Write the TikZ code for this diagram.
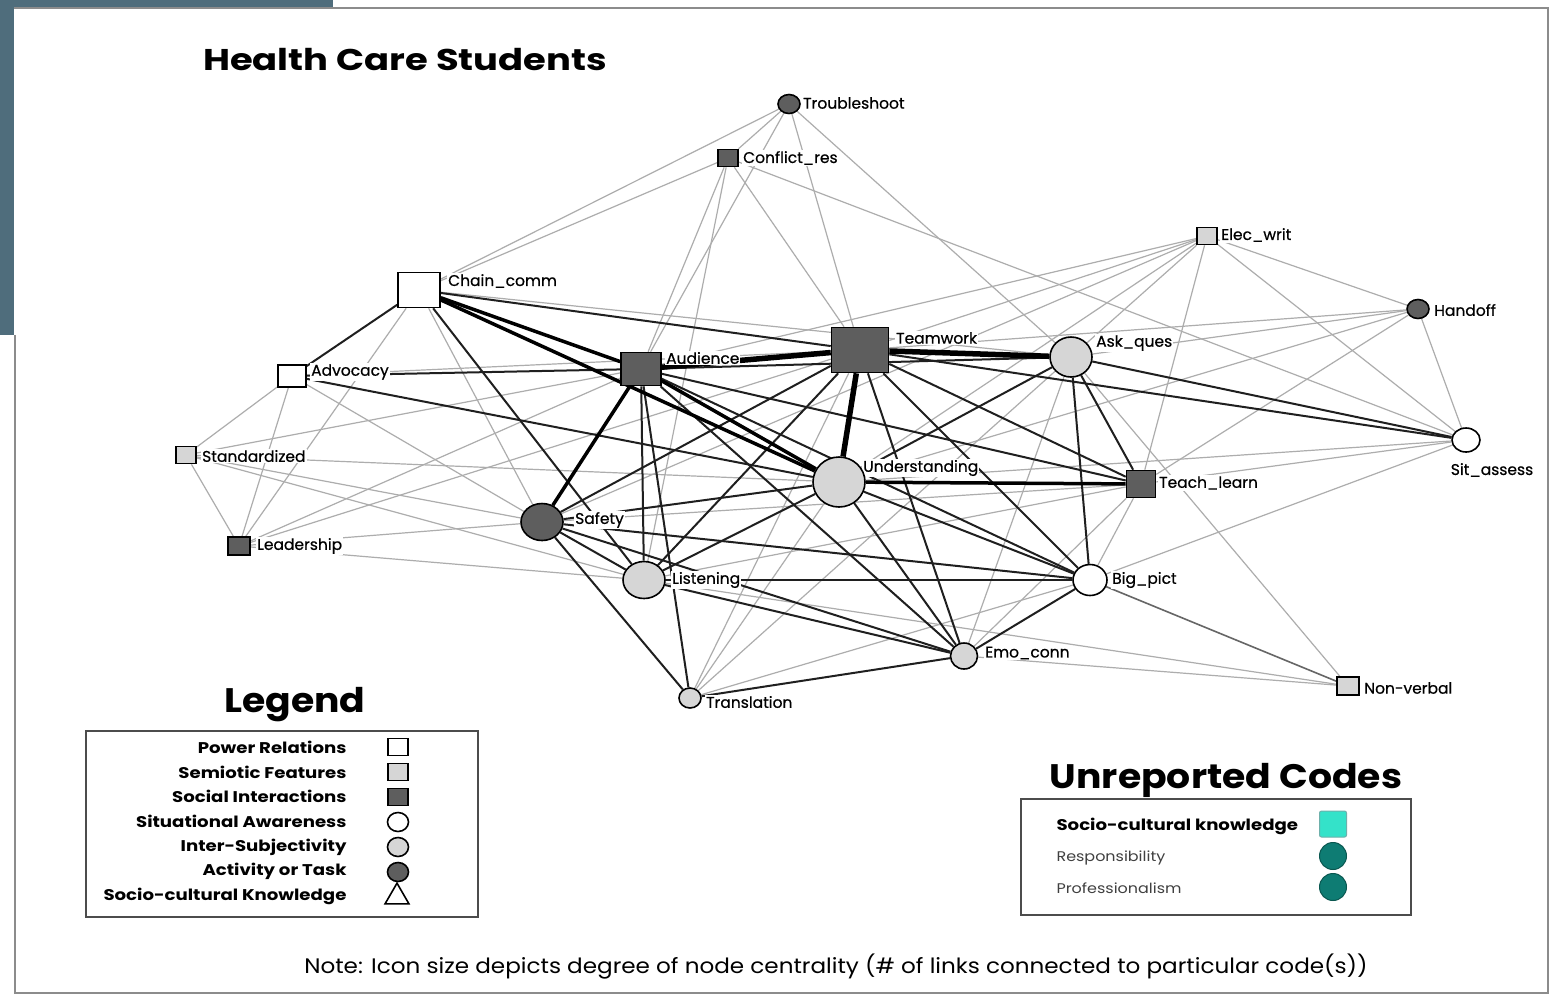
\documentclass[tikz,border=0pt]{standalone}
\usepackage{fontspec}
\setmainfont{Poppins}
\newfontfamily\labf{Poppins}[FakeBold=0.6]
\newfontfamily\wideA{Poppins}[FakeStretch=1.23]
\newfontfamily\wideB{Poppins}[FakeStretch=1.17]
\newfontfamily\wideC{Poppins}[FakeStretch=1.11]
\newfontfamily\wideD{Poppins}[FakeStretch=1.14]
\newfontfamily\wideE{Poppins}[FakeStretch=1.1]
\usetikzlibrary{shapes.geometric,backgrounds}
\definecolor{slate}{HTML}{4F6D7C}
\definecolor{dk}{HTML}{5E5E5E}
\definecolor{lg}{HTML}{D6D6D6}
\definecolor{edl}{HTML}{ADADAD}
\definecolor{tealc}{HTML}{0E7C73}
\definecolor{cyanc}{HTML}{34E2C9}
\begin{document}
\begin{tikzpicture}[x=1pt,y=-1pt,
  sq/.style={rectangle,draw=black,line width=1.6pt,inner sep=0pt},
  ci/.style={ellipse,draw=black,line width=1.6pt,inner sep=0pt},
  lab/.style={fill=white,inner sep=1pt,anchor=west,font=\labf\fontsize{15.5}{15.5}\selectfont},
  lt/.style={draw=edl,line width=1.2pt},
  md/.style={draw=black!88,line width=2pt},
  mg/.style={draw=black!60,line width=1.6pt},
  tk/.style={draw=black,line width=3.5pt},
  vtk/.style={draw=black,line width=5.5pt},
  legt/.style={anchor=east,font=\wideB\fontsize{15.5}{15.5}\selectfont\bfseries},
  head/.style={font=\wideC\fontsize{34}{34}\selectfont\bfseries},
]
\useasboundingbox (0,0) rectangle (1557,997);
% labels
\node[lab] (TSl) at (802,103) {Troubleshoot};
\node[lab] (CRl) at (742,158) {Conflict\_res};
\node[lab] (EWl) at (1220,235) {Elec\_writ};
\node[lab] (HOl) at (1433,310) {Handoff};
\node[lab] (CCl) at (447,281) {Chain\_comm};
\node[lab] (ADl) at (310,372) {Advocacy};
\node[lab] (AUl) at (665,358) {Audience};
\node[lab] (TWl) at (895,338) {Teamwork};
\node[lab] (AQl) at (1095,343) {Ask\_ques};
\node[lab] (STl) at (201,456) {Standardized};
\node[lab,anchor=center] (SAl) at (1492,470) {Sit\_assess};
\node[lab] (UNl) at (862,468) {Understanding};
\node[lab] (TLl) at (1158,483) {Teach\_learn};
\node[lab] (SFl) at (574,520) {Safety};
\node[lab] (LEl) at (256,546) {Leadership};
\node[lab] (LIl) at (671,580) {Listening};
\node[lab] (BPl) at (1111,580) {Big\_pict};
\node[lab] (ECl) at (984,653) {Emo\_conn};
\node[lab] (NVl) at (1363,688) {Non-verbal};
\node[lab] (TRl) at (705,702) {Translation};
% nodes
\node[ci,fill=dk,minimum width=22,minimum height=19] (TS) at (789,104) {};
\node[sq,fill=dk,minimum width=20,minimum height=17] (CR) at (728,158) {};
\node[sq,fill=lg,minimum width=20,minimum height=17] (EW) at (1207,236) {};
\node[ci,fill=dk,minimum width=22,minimum height=19] (HO) at (1418,309) {};
\node[sq,fill=white,minimum width=42,minimum height=35] (CC) at (419,290) {};
\node[sq,fill=white,minimum width=28,minimum height=22] (AD) at (292,376) {};
\node[sq,fill=dk,minimum width=40,minimum height=33] (AU) at (641,369) {};
\node[sq,fill=dk,minimum width=57,minimum height=45] (TW) at (860,350) {};
\node[ci,fill=lg,minimum width=42,minimum height=40] (AQ) at (1071,357) {};
\node[sq,fill=lg,minimum width=20,minimum height=17] (ST) at (186,455) {};
\node[ci,fill=white,minimum width=28,minimum height=24] (SA) at (1466,440) {};
\node[ci,fill=lg,minimum width=52,minimum height=50] (UN) at (839,482) {};
\node[sq,fill=dk,minimum width=29,minimum height=27] (TL) at (1141,484) {};
\node[ci,fill=dk,minimum width=42,minimum height=37] (SF) at (542,522) {};
\node[sq,fill=dk,minimum width=22,minimum height=18] (LE) at (239,546) {};
\node[ci,fill=lg,minimum width=42,minimum height=37] (LI) at (644,580) {};
\node[ci,fill=white,minimum width=34,minimum height=31] (BP) at (1090,580) {};
\node[ci,fill=lg,minimum width=27,minimum height=26] (EC) at (964,656) {};
\node[sq,fill=lg,minimum width=22,minimum height=18] (NV) at (1348,686) {};
\node[ci,fill=lg,minimum width=22,minimum height=20] (TR) at (690,698) {};
% title
\node[font=\wideA\fontsize{30}{30}\selectfont\bfseries] (title) at (405,60) {Health Care Students};
% legend
\node[head] (legh) at (295,705) {Legend};
\node[draw=black!70,line width=1.2pt,minimum width=392,minimum height=186] (legbox) at (282,824) {};
\node[legt] (l1) at (350,747) {Power Relations};
\node[legt] (l2) at (350,772) {Semiotic Features};
\node[legt] (l3) at (350,796) {Social Interactions};
\node[legt] (l4) at (350,821) {Situational Awareness};
\node[legt] (l5) at (350,847) {Inter-Subjectivity};
\node[legt] (l6) at (350,871) {Activity or Task};
\node[legt] (l7) at (350,896) {Socio-cultural Knowledge};
\node[sq,fill=white,minimum width=20,minimum height=17] (i1) at (398,747) {};
\node[sq,fill=lg,minimum width=20,minimum height=17] (i2) at (398,772) {};
\node[sq,fill=dk,minimum width=20,minimum height=17] (i3) at (398,797) {};
\node[ci,fill=white,minimum width=21,minimum height=19] (i4) at (398,822) {};
\node[ci,fill=lg,minimum width=21,minimum height=19] (i5) at (398,847) {};
\node[ci,fill=dk,minimum width=21,minimum height=19] (i6) at (398,872) {};
\node[isosceles triangle,isosceles triangle apex angle=60,shape border rotate=90,draw=black,line width=1.6pt,fill=white,inner sep=0pt,minimum height=18,minimum width=24] (i7) at (397,897) {};
% unreported
\node[head] (unh) at (1226,780) {Unreported Codes};
\node[draw=black!70,line width=1.2pt,minimum width=390,minimum height=116] (unbox) at (1216,857) {};
\node[anchor=west,font=\wideB\fontsize{15.5}{15.5}\selectfont\bfseries] (u1) at (1053,826) {Socio-cultural knowledge};
\node[anchor=west,text=black!75,font=\wideD\fontsize{14}{14}\selectfont] (u2) at (1053,858) {Responsibility};
\node[anchor=west,text=black!75,font=\wideD\fontsize{14}{14}\selectfont] (u3) at (1053,888) {Professionalism};
\node[rectangle,rounded corners=2pt,fill=cyanc,draw=tealc!60,line width=1pt,minimum width=27,minimum height=26] (ui1) at (1333,824) {};
\node[circle,fill=tealc,draw=tealc!70!black,line width=1pt,minimum size=27,inner sep=0pt] (ui2) at (1333,856) {};
\node[circle,fill=tealc,draw=tealc!70!black,line width=1pt,minimum size=27,inner sep=0pt] (ui3) at (1333,887) {};
% note
\node[font=\wideE\fontsize{21}{21}\selectfont] (note) at (836,967) {Note: Icon size depicts degree of node centrality (\# of links connected to particular code(s))};
\begin{pgfonlayer}{background}
\fill[white] (0,0) rectangle (1557,997);
\fill[slate] (0,0) rectangle (333,8);
\fill[slate] (0,0) rectangle (14,335);
\draw[black!45,line width=1.5pt] (14,8) -- (1548,8) -- (1548,993) -- (15,993) -- (15,335);
\foreach \a/\b in {TS/CC,CR/CC,TS/CR,TS/AU,TS/TW,TS/AQ,CR/AU,CR/LI,CR/TW,CR/SA,EW/TW,EW/SF,EW/AU,EW/UN,EW/AQ,EW/TL,EW/SA,EW/HO,HO/TW,HO/AQ,HO/UN,HO/TL,HO/SA,UN/SA,BP/SA,TL/SA,AQ/NV,EC/NV,LI/NV,TL/BP,TL/LI,TL/SF,EC/AQ,EC/TL,ST/AD,ST/LE,ST/AU,ST/UN,ST/SF,ST/LI,LE/AD,LE/CC,LE/AU,LE/TW,LE/SF,LE/LI,AD/SF,AD/TW,CC/SF,CC/AQ,TR/AQ,TR/UN,TR/BP,TW/TR}
  \draw[lt] (\a) -- (\b);
\foreach \a/\b in {CC/TW,CC/AD,CC/LI,AD/AU,AD/UN,AU/LI,AU/TR,AU/EC,AU/BP,AU/TL,AU/AQ,SF/LI,SF/UN,SF/TW,SF/BP,SF/TR,SF/EC,LI/UN,LI/TW,LI/BP,LI/EC,UN/BP,UN/EC,UN/AQ,TW/TL,TW/BP,TW/EC,TW/SA,AQ/TL,AQ/BP,AQ/SA,BP/EC,EC/TR}
  \draw[md] (\a) -- (\b);
\draw[mg] (BP) -- (NV);
\foreach \a/\b in {CC/AU,CC/UN,AU/UN,AU/SF,UN/TL}
  \draw[tk] (\a) -- (\b);
\foreach \a/\b in {AU/TW,TW/UN,TW/AQ}
  \draw[vtk] (\a) -- (\b);
\end{pgfonlayer}
\end{tikzpicture}
\end{document}
